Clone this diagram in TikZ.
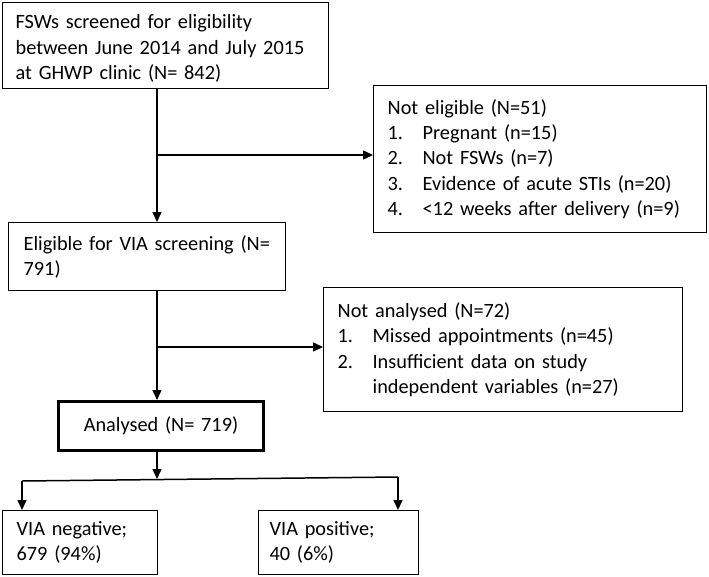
\documentclass[tikz,border=0pt]{standalone}
\usepackage{fontspec}
\setmainfont{Carlito}
\usetikzlibrary{arrows.meta,calc}
\begin{document}
\begin{tikzpicture}[x=1pt,y=-1pt,
  box/.style={draw, line width=1.3pt, anchor=north west, inner ysep=0pt, align=left,
    font=\fontsize{20.3}{25.3}\selectfont},
  arr/.style={line width=1.5pt, -{Triangle[length=10pt,width=9pt]}},
  ln/.style={line width=1.5pt}]
\useasboundingbox (0,0) rectangle (709,576);
\newcommand{\itm}[1]{\makebox[35pt][l]{#1}}

\node[box, minimum width=326pt, minimum height=86pt, inner sep=0pt] (b1) at (2,2) {};
\node[box, draw=none, anchor=west, inner xsep=0pt, text width=300pt, yshift=-3pt] (b1t) at ([xshift=13pt]b1.west)
  {FSWs screened for eligibility\\between June 2014 and July 2015\\at GHWP clinic (N= 842)};

\node[box, minimum width=333pt, minimum height=147pt, inner xsep=14pt, text width=305pt] (b3) at (373,85)
  {Not eligible (N=51)\\\itm{1.}Pregnant (n=15)\\\itm{2.}Not FSWs (n=7)\\\itm{3.}Evidence of acute STIs (n=20)\\\itm{4.}<12 weeks after delivery (n=9)};

\node[box, minimum width=277pt, minimum height=68pt, inner xsep=15pt, text width=247pt] (b2) at (8,222)
  {\mbox{Eligible for VIA screening (N=}\\791)};

\node[box, minimum width=359pt, minimum height=124pt, inner xsep=14pt, text width=331pt] (b4) at (323,287)
  {Not analysed (N=72)\\\itm{1.}Missed appointments (n=45)\\\itm{2.}Insufficient data on study\\\hspace*{35pt}independent variables (n=27)};

\node[box, line width=3pt, minimum width=205pt, minimum height=49pt, inner xsep=10pt, text width=185pt, align=center] (an) at (57,400)
  {Analysed (N= 719)};

\node[box, minimum width=155pt, minimum height=64pt, inner xsep=14pt, text width=127pt] (neg) at (2,510)
  {VIA negative;\\679 (94\%)};

\node[box, minimum width=160pt, minimum height=64pt, inner xsep=11pt, text width=138pt] (pos) at (258,510)
  {VIA positive;\\40 (6\%)};

\coordinate (j1) at (157,155);
\coordinate (j2) at (157,347);
\coordinate (j3) at (157,479);
\coordinate (l) at (22,481);
\coordinate (r) at (398,477);

\draw[arr] (b1.south -| j1) -- (b2.north -| j1);
\draw[arr] (j1) -- (j1 -| b3.west);
\draw[arr] (b2.south -| j2) -- (an.north -| j2);
\draw[arr] (j2) -- (j2 -| b4.west);
\draw[arr] (an.south -| j3) -- (j3);
\draw[ln] (l) -- (r);
\draw[arr] (l) -- (l |- neg.north);
\draw[arr] (r) -- (r |- pos.north);
\end{tikzpicture}
\end{document}
